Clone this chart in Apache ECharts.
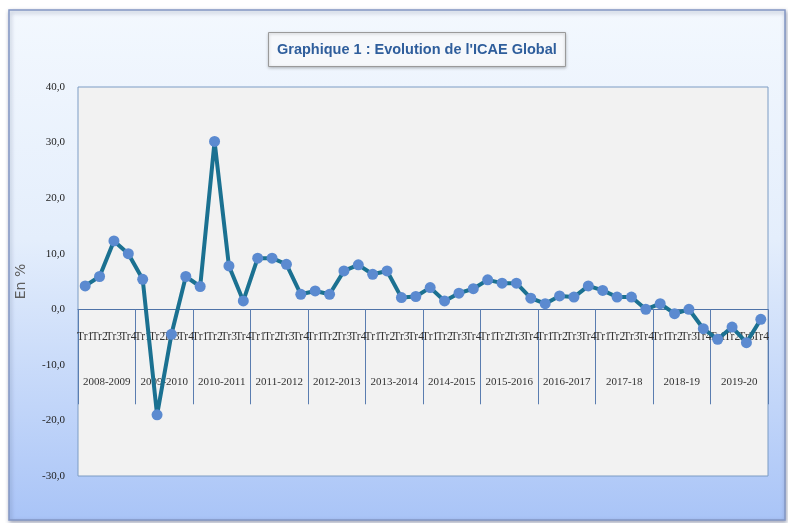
<!DOCTYPE html>
<html>
<head>
<meta charset="utf-8">
<script src="https://cdn.jsdelivr.net/npm/echarts@6/dist/echarts.min.js"></script>
<style>
  html, body { margin: 0; padding: 0; background: #ffffff; }
  #icae { width: 788px; height: 523px; }
</style>
</head>
<body>
<div id="icae"></div>
<script>
  // trimestres et années
  var quarters = ['Tr1', 'Tr2', 'Tr3', 'Tr4'];
  var years = ['2008-2009', '2009-2010', '2010-2011', '2011-2012', '2012-2013', '2013-2014',
    '2014-2015', '2015-2016', '2016-2017', '2017-18', '2018-19', '2019-20'];
  // ICAE global, en %
  var icaeValues = [4.2, 5.9, 12.3, 10.0, 5.4, -19.0, -4.5, 5.9, 4.1, 30.2, 7.8, 1.5,
    9.2, 9.2, 8.1, 2.7, 3.3, 2.7, 6.9, 8.0, 6.3, 6.9, 2.1, 2.3,
    3.9, 1.5, 2.9, 3.7, 5.3, 4.7, 4.7, 2.0, 1.0, 2.4, 2.2, 4.2,
    3.4, 2.2, 2.2, 0.0, 1.0, -0.8, 0.0, -3.5, -5.4, -3.2, -6.0, -1.8];
  var yTicks = [-30, -20, -10, 0, 10, 20, 30, 40];

  var quarterLabels = [];
  for (var i = 0; i < years.length; i++) {
    for (var j = 0; j < quarters.length; j++) {
      quarterLabels.push(quarters[j]);
    }
  }

  var labelFont = '"Liberation Serif", serif';

  var myChart = echarts.init(document.getElementById('icae'));
  myChart.setOption({
    animation: false,
    backgroundColor: '#ffffff',
    graphic: [{
      type: 'rect',
      z: -10,
      shape: {x: 9, y: 10, width: 776, height: 510},
      style: {
        fill: new echarts.graphic.LinearGradient(0, 0, 0, 1, [
          {offset: 0, color: '#f3f8fe'},
          {offset: 0.45, color: '#e4eefc'},
          {offset: 1, color: '#a9c4f7'}
        ]),
        stroke: '#8396c4',
        lineWidth: 1.5,
        shadowBlur: 4,
        shadowOffsetX: 1,
        shadowOffsetY: 2,
        shadowColor: 'rgba(60,70,110,0.45)'
      }
    }],
    title: {
      text: "Graphique 1 : Evolution de l'ICAE Global",
      left: 268,
      top: 32,
      padding: [10, 9, 10, 9],
      backgroundColor: '#f6f8fb',
      borderColor: '#9a9a9a',
      borderWidth: 1,
      shadowBlur: 3,
      shadowColor: 'rgba(0,0,0,0.25)',
      shadowOffsetY: 1,
      textStyle: {
        fontFamily: '"Liberation Sans", sans-serif',
        fontWeight: 'bold',
        fontSize: 14.5,
        color: '#2f5e9c'
      }
    },
    grid: {
      show: true,
      left: 78,
      right: 20,
      top: 87,
      bottom: 47,
      outerBoundsMode: 'none',
      containLabel: false,
      backgroundColor: '#f2f2f2',
      borderColor: '#7d9cc4',
      borderWidth: 1
    },
    xAxis: [
      {
        type: 'category',
        position: 'bottom',
        data: quarterLabels,
        boundaryGap: true,
        axisLine: {onZero: true, onZeroAxisIndex: 0, lineStyle: {color: '#4f73a8', width: 1}},
        axisTick: {show: false},
        axisLabel: {
          interval: 0,
          hideOverlap: false,
          margin: -145,
          fontFamily: labelFont,
          fontSize: 11.5,
          color: '#333333'
        },
        splitLine: {show: false}
      },
      {
        type: 'category',
        position: 'bottom',
        data: years,
        boundaryGap: true,
        axisLine: {show: false, onZero: true, onZeroAxisIndex: 1},
        axisTick: {show: true, interval: 0, length: 95, lineStyle: {color: '#5a7db0', width: 1}},
        axisLabel: {
          interval: 0,
          hideOverlap: false,
          margin: -99,
          fontFamily: labelFont,
          fontSize: 11,
          color: '#333333'
        },
        splitLine: {show: false}
      }
    ],
    yAxis: [
      {
        type: 'value',
        min: yTicks[0],
        max: yTicks[yTicks.length - 1],
        interval: 10,
        name: 'En %',
        nameLocation: 'middle',
        nameRotate: 90,
        nameGap: 50,
        nameTextStyle: {
          fontFamily: '"DejaVu Sans", sans-serif',
          fontSize: 14,
          color: '#5f5f5f'
        },
        axisLine: {show: false},
        axisTick: {show: false},
        splitLine: {show: false},
        axisLabel: {
          margin: 13,
          fontFamily: labelFont,
          fontSize: 11,
          color: '#222222',
          formatter: function (v) {
            return v.toFixed(1).replace('.', ',');
          }
        }
      },
      {
        // axe caché : sert seulement à placer les années sur le zéro
        type: 'value',
        position: 'right',
        min: yTicks[0],
        max: yTicks[yTicks.length - 1],
        interval: 10,
        axisLine: {show: false},
        axisTick: {show: false},
        axisLabel: {show: false},
        splitLine: {show: false}
      }
    ],
    series: [{
      name: 'ICAE Global',
      type: 'line',
      xAxisIndex: 0,
      yAxisIndex: 0,
      data: icaeValues,
      symbol: 'circle',
      symbolSize: 11,
      lineStyle: {color: '#1b7191', width: 4},
      itemStyle: {color: '#5b8ad0'}
    }]
  });
</script>
</body>
</html>
